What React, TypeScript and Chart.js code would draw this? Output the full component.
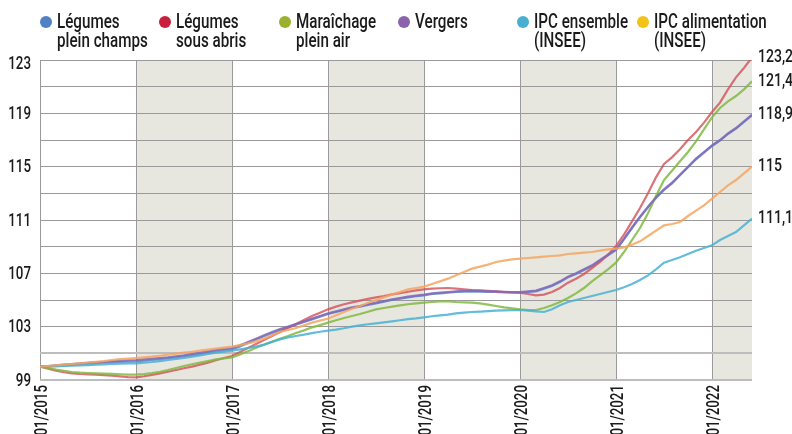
import React, { useEffect, useRef } from "react";
import { Chart, registerables } from "chart.js";

Chart.register(...registerables);

const FONT = "Roboto, 'Noto Sans', sans-serif";
const SX = 0.74; // horizontal condensing of text glyphs
const TEXT = "#1a1a1a";

// ---- data (monthly index, base 100 = 01/2015, Jan 2015 -> Jun 2022) ----
const years = [2015, 2016, 2017, 2018, 2019, 2020, 2021, 2022];
const shadedYears = [2016, 2018, 2020, 2022];
const yLabelValues = [99, 103, 107, 111, 115, 119, 123];

const legumesPleinChamps = [
  100.0, 100.03, 100.07, 100.1, 100.14, 100.18, 100.22, 100.26, 100.3, 100.33, 100.36, 100.38,
  100.4, 100.45, 100.5, 100.56, 100.63, 100.7, 100.78, 100.86, 100.95, 101.05, 101.15, 101.23,
  101.3, 101.52, 101.78, 102.03, 102.28, 102.53, 102.76, 102.95, 103.15, 103.35, 103.55, 103.75,
  103.95, 104.1, 104.25, 104.4, 104.5, 104.63, 104.75, 104.87, 105.0, 105.1, 105.2, 105.28,
  105.35, 105.45, 105.5, 105.55, 105.6, 105.63, 105.65, 105.63, 105.6, 105.6, 105.57, 105.55,
  105.55, 105.6, 105.65, 105.85, 106.05, 106.35, 106.7, 106.95, 107.25, 107.55, 107.95, 108.35,
  108.75, 109.55, 110.4, 111.2, 111.95, 112.65, 113.25, 113.75, 114.35, 114.95, 115.55, 116.05,
  116.55, 116.95, 117.45, 117.85, 118.35, 118.85,
];

const legumesSousAbris = [
  100.0, 99.85, 99.7, 99.58, 99.5, 99.45, 99.42, 99.4, 99.36, 99.32, 99.27, 99.22,
  99.2, 99.28, 99.38, 99.5, 99.62, 99.75, 99.88, 100.0, 100.15, 100.3, 100.48, 100.65,
  100.8, 101.1, 101.4, 101.7, 102.0, 102.3, 102.6, 102.9, 103.2, 103.5, 103.8, 104.05,
  104.3, 104.5, 104.68, 104.82, 104.95, 105.08, 105.2, 105.3, 105.42, 105.52, 105.62, 105.72,
  105.8, 105.85, 105.88, 105.9, 105.85, 105.8, 105.75, 105.72, 105.68, 105.65, 105.6, 105.58,
  105.55, 105.45, 105.35, 105.4, 105.6, 105.9, 106.3, 106.6, 106.95, 107.4, 107.85, 108.4,
  109.05, 109.9, 110.9, 111.9, 113.0, 114.2, 115.2, 115.7, 116.3, 117.0, 117.6, 118.3,
  119.1, 119.8, 120.8, 121.7, 122.4, 123.2,
];

const maraichagePleinAir = [
  100.0, 99.9, 99.78, 99.68, 99.6, 99.55, 99.52, 99.5, 99.48, 99.46, 99.43, 99.4,
  99.4, 99.45, 99.52, 99.62, 99.75, 99.9, 100.05, 100.18, 100.3, 100.42, 100.55, 100.62,
  100.7, 100.92, 101.15, 101.42, 101.65, 101.88, 102.1, 102.3, 102.52, 102.72, 102.95, 103.12,
  103.3, 103.48, 103.65, 103.8, 103.95, 104.12, 104.3, 104.4, 104.5, 104.6, 104.68, 104.75,
  104.8, 104.85, 104.9, 104.9, 104.85, 104.82, 104.8, 104.75, 104.65, 104.55, 104.45, 104.38,
  104.3, 104.25, 104.25, 104.4, 104.6, 104.85, 105.15, 105.5, 105.9, 106.4, 106.85, 107.3,
  107.8, 108.6, 109.5, 110.4, 111.5, 112.8, 114.0, 114.7, 115.4, 116.1, 116.9, 117.8,
  118.7, 119.4, 119.9, 120.3, 120.8, 121.4,
];

const vergers = [
  100.0, 100.05, 100.1, 100.15, 100.2, 100.24, 100.28, 100.32, 100.36, 100.4, 100.44, 100.47,
  100.5, 100.55, 100.6, 100.65, 100.7, 100.78, 100.85, 100.95, 101.05, 101.15, 101.25, 101.33,
  101.4, 101.6, 101.85, 102.1, 102.35, 102.6, 102.82, 103.0, 103.2, 103.4, 103.6, 103.8,
  104.0, 104.15, 104.3, 104.45, 104.55, 104.68, 104.8, 104.92, 105.05, 105.15, 105.25, 105.33,
  105.4, 105.5, 105.55, 105.6, 105.65, 105.68, 105.7, 105.68, 105.65, 105.65, 105.62, 105.6,
  105.6, 105.65, 105.7, 105.9, 106.1, 106.4, 106.75, 107.0, 107.3, 107.6, 108.0, 108.4,
  108.8, 109.6, 110.45, 111.25, 112.0, 112.7, 113.3, 113.8, 114.4, 115.0, 115.6, 116.1,
  116.6, 117.0, 117.5, 117.9, 118.4, 118.9,
];

const ipcEnsemble = [
  100.0, 100.0, 100.02, 100.05, 100.08, 100.1, 100.12, 100.15, 100.17, 100.2, 100.22, 100.24,
  100.25, 100.3, 100.35, 100.42, 100.5, 100.58, 100.65, 100.75, 100.85, 100.95, 101.05, 101.12,
  101.2, 101.3, 101.4, 101.5, 101.65, 101.85, 102.05, 102.2, 102.3, 102.4, 102.52, 102.62,
  102.7, 102.78, 102.88, 103.0, 103.1, 103.18, 103.25, 103.32, 103.4, 103.48, 103.56, 103.62,
  103.7, 103.78, 103.85, 103.9, 104.0, 104.05, 104.1, 104.13, 104.16, 104.2, 104.22, 104.24,
  104.25, 104.2, 104.15, 104.1, 104.3, 104.6, 104.85, 105.0, 105.15, 105.3, 105.45, 105.6,
  105.75, 105.95, 106.2, 106.5, 106.85, 107.3, 107.8, 108.0, 108.2, 108.45, 108.7, 108.9,
  109.1, 109.5, 109.8, 110.1, 110.6, 111.1,
];

const ipcAlimentation = [
  100.0, 100.05, 100.1, 100.15, 100.2, 100.25, 100.3, 100.36, 100.42, 100.5, 100.56, 100.6,
  100.65, 100.7, 100.75, 100.82, 100.9, 100.98, 101.05, 101.12, 101.2, 101.28, 101.36, 101.43,
  101.5, 101.62, 101.75, 101.9, 102.1, 102.35, 102.6, 102.75, 102.9, 103.1, 103.3, 103.45,
  103.6, 103.85, 104.1, 104.35, 104.55, 104.8, 105.0, 105.2, 105.4, 105.6, 105.8, 105.9,
  106.0, 106.2, 106.4, 106.6, 106.85, 107.1, 107.35, 107.5, 107.65, 107.85, 107.95, 108.05,
  108.1, 108.15, 108.2, 108.25, 108.3, 108.35, 108.45, 108.5, 108.55, 108.6, 108.7, 108.8,
  108.85, 108.95, 109.15, 109.4, 109.8, 110.2, 110.6, 110.7, 110.85, 111.3, 111.7, 112.1,
  112.6, 113.1, 113.6, 114.0, 114.5, 115.0,
];

const seriesLabels = [
  ["Légumes", "plein champs"],
  ["Légumes", "sous abris"],
  ["Maraîchage", "plein air"],
  ["Vergers"],
  ["IPC ensemble", "(INSEE)"],
  ["IPC alimentation", "(INSEE)"],
];
const seriesValues = [
  legumesPleinChamps,
  legumesSousAbris,
  maraichagePleinAir,
  vergers,
  ipcEnsemble,
  ipcAlimentation,
];
const legendColors = ["#4f81c7", "#c8203c", "#9bb02c", "#8b63ad", "#4aaed0", "#f2c218"];
const lineColors = [
  "rgba(79,129,199,0.8)",
  "rgba(210,80,88,0.8)",
  "rgba(128,184,64,0.85)",
  "rgba(133,104,186,0.85)",
  "rgba(72,176,210,0.85)",
  "rgba(246,164,96,0.85)",
];
const endLabelSeries = [1, 2, 3, 4, 5];

const fmt = (v: number) => String(Math.round(v * 10) / 10).replace(".", ",");

function condensedText(ctx: any, text: string, x: number, y: number, align: string, rot = 0) {
  ctx.save();
  ctx.translate(x, y);
  if (rot) ctx.rotate(rot);
  ctx.scale(SX, 1);
  ctx.textAlign = align;
  ctx.textBaseline = "middle";
  ctx.fillText(text, 0, 0);
  ctx.restore();
}

const bandsPlugin = {
  id: "bands",
  beforeDraw(chart: any) {
    const { ctx, chartArea, scales } = chart;
    const xs = scales.x;
    const maxIdx = seriesValues[0].length - 1;
    ctx.save();
    ctx.fillStyle = "#e7e7e0";
    shadedYears.forEach((yr) => {
      const start = (yr - years[0]) * 12;
      const end = Math.min(start + 12, maxIdx);
      const x0 = xs.getPixelForValue(start);
      const x1 = xs.getPixelForValue(end);
      ctx.fillRect(x0, chartArea.top, x1 - x0, chartArea.bottom - chartArea.top);
    });
    ctx.restore();
  },
};

const textPlugin = {
  id: "texts",
  afterDraw(chart: any) {
    const { ctx, chartArea, scales } = chart;
    ctx.save();
    ctx.fillStyle = TEXT;
    ctx.font = `500 18px ${FONT}`;
    // y-axis labels
    yLabelValues.forEach((v) => {
      const py = Math.max(scales.y.getPixelForValue(v) + 1, chartArea.top + 4);
      condensedText(ctx, String(v), 31, py, "right");
    });
    // x-axis labels (rotated)
    years.forEach((yr, i) => {
      const px = scales.x.getPixelForValue(i * 12);
      condensedText(ctx, "01/" + yr, px + 2, chartArea.bottom + 5, "right", -Math.PI / 2);
    });
    // end-of-line values
    ctx.font = `500 19px ${FONT}`;
    endLabelSeries.forEach((i) => {
      const arr = seriesValues[i];
      const v = arr[arr.length - 1];
      condensedText(ctx, fmt(v), chartArea.right + 6, scales.y.getPixelForValue(v), "left");
    });
    ctx.restore();
  },
};

export default function App() {
  const ref = useRef<HTMLCanvasElement | null>(null);

  useEffect(() => {
    if (!ref.current) return;
    const maxIdx = seriesValues[0].length - 1;
    const chart = new Chart(ref.current, {
      type: "line",
      data: {
        datasets: seriesValues.map((vals, i) => ({
          label: seriesLabels[i].join(" "),
          data: vals.map((v, k) => ({ x: k, y: v })),
          borderColor: lineColors[i],
          backgroundColor: lineColors[i],
          borderWidth: 2.2,
          pointRadius: 0,
          tension: 0,
          fill: false,
          order: i === 0 ? 10 : 6 - i,
        })),
      },
      options: {
        animation: false,
        responsive: false,
        maintainAspectRatio: false,
        layout: { padding: { top: 60, right: 40, left: 0, bottom: 0 } },
        plugins: { legend: { display: false }, tooltip: { enabled: false } },
        scales: {
          x: {
            type: "linear",
            min: 0,
            max: maxIdx,
            afterBuildTicks: (scale: any) => {
              scale.ticks = years.map((_, i) => ({ value: i * 12 }));
            },
            afterFit: (scale: any) => {
              scale.height = 54;
            },
            grid: { color: "#9a9a9a", lineWidth: 1, drawTicks: false },
            border: { display: false },
            ticks: { display: false },
          },
          y: {
            min: 99,
            max: 123,
            afterFit: (scale: any) => {
              scale.width = 40;
            },
            grid: {
              drawTicks: false,
              color: (c: any) => (c.tick && (c.tick.value === 99 || c.tick.value === 101) ? "#bdbdbd" : "#9a9a9a"),
              lineWidth: (c: any) => (c.tick && (c.tick.value === 99 || c.tick.value === 101) ? 2 : 1),
            },
            border: { display: false },
            ticks: { stepSize: 2, display: false },
          },
        },
      },
      plugins: [bandsPlugin, textPlugin],
    });
    return () => chart.destroy();
  }, []);

  return (
    <div style={{ position: "absolute", left: 0, top: 0, width: 792, height: 434, background: "#fff", overflow: "hidden" }}>
      <canvas ref={ref} width={792} height={434} style={{ position: "absolute", left: 0, top: 0 }} />
      {seriesLabels.map((lines, i) => (
        <div
          key={i}
          style={{ position: "absolute", left: 40 + i * 119.3, top: 12, display: "flex", alignItems: "flex-start" }}
        >
          <span
            style={{
              display: "inline-block",
              width: 12,
              height: 12,
              borderRadius: "50%",
              background: legendColors[i],
              marginTop: 4,
              marginRight: 5,
              flex: "none",
            }}
          />
          <div
            style={{
              fontFamily: FONT,
              fontSize: 20,
              fontWeight: 500,
              lineHeight: "19px",
              color: TEXT,
              whiteSpace: "nowrap",
              transform: `scaleX(${SX + 0.02})`,
              transformOrigin: "left top",
            }}
          >
            {lines.map((l, k) => (
              <div key={k}>{l}</div>
            ))}
          </div>
        </div>
      ))}
    </div>
  );
}
